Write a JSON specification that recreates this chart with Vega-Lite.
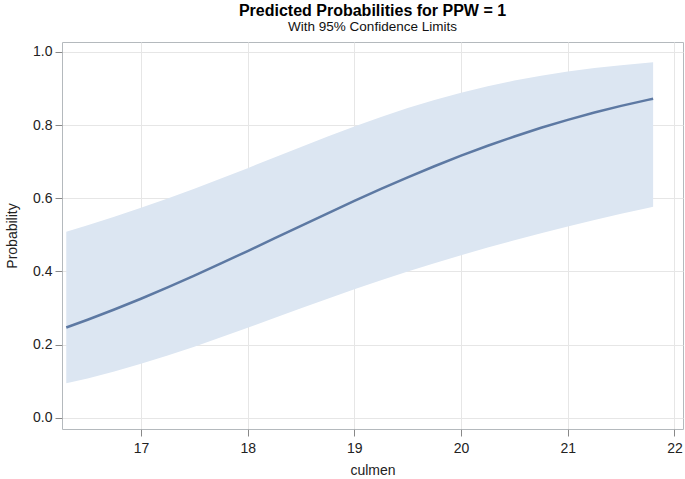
{
  "$schema": "https://vega.github.io/schema/vega-lite/v6.json",
  "autosize": "none",
  "width": 621,
  "height": 387,
  "padding": {"left": 62, "top": 42, "right": 2, "bottom": 50},
  "background": "white",
  "title": {
    "text": "Predicted Probabilities for PPW = 1",
    "subtitle": "With 95% Confidence Limits",
    "anchor": "middle",
    "font": "Liberation Sans",
    "fontSize": 16,
    "fontWeight": "bold",
    "color": "#000000",
    "subtitleFont": "Liberation Sans",
    "subtitleFontSize": 13.5,
    "subtitleColor": "#111111",
    "subtitlePadding": 1,
    "offset": 9
  },
  "config": {
    "view": {"stroke": "#b4b9bd", "strokeWidth": 1},
    "axis": {
      "labelFont": "Liberation Sans",
      "labelFontSize": 14,
      "labelColor": "#222222",
      "titleFont": "Liberation Sans",
      "titleFontSize": 14,
      "titleFontWeight": "normal",
      "titleColor": "#222222",
      "gridColor": "#e6e6e6",
      "gridWidth": 1,
      "tickColor": "#888888",
      "tickSize": 7,
      "domain": false
    }
  },
  "data": {
    "values": [
      {"culmen": 16.3, "p": 0.2469, "lo": 0.0941, "hi": 0.5087},
      {"culmen": 16.5, "p": 0.2680, "lo": 0.1077, "hi": 0.5264},
      {"culmen": 16.75, "p": 0.2959, "lo": 0.1265, "hi": 0.5495},
      {"culmen": 17.0, "p": 0.3254, "lo": 0.1474, "hi": 0.5738},
      {"culmen": 17.25, "p": 0.3564, "lo": 0.1701, "hi": 0.5994},
      {"culmen": 17.5, "p": 0.3887, "lo": 0.1944, "hi": 0.6261},
      {"culmen": 17.75, "p": 0.4219, "lo": 0.2199, "hi": 0.6539},
      {"culmen": 18.0, "p": 0.4558, "lo": 0.2462, "hi": 0.6823},
      {"culmen": 18.25, "p": 0.4902, "lo": 0.2729, "hi": 0.7113},
      {"culmen": 18.5, "p": 0.5246, "lo": 0.2995, "hi": 0.7402},
      {"culmen": 18.75, "p": 0.5589, "lo": 0.3256, "hi": 0.7687},
      {"culmen": 19.0, "p": 0.5926, "lo": 0.3512, "hi": 0.7962},
      {"culmen": 19.25, "p": 0.6254, "lo": 0.3759, "hi": 0.8222},
      {"culmen": 19.5, "p": 0.6571, "lo": 0.3997, "hi": 0.8464},
      {"culmen": 19.75, "p": 0.6874, "lo": 0.4225, "hi": 0.8687},
      {"culmen": 20.0, "p": 0.7163, "lo": 0.4442, "hi": 0.8886},
      {"culmen": 20.25, "p": 0.7434, "lo": 0.4651, "hi": 0.9061},
      {"culmen": 20.5, "p": 0.7688, "lo": 0.4851, "hi": 0.9215},
      {"culmen": 20.75, "p": 0.7925, "lo": 0.5043, "hi": 0.9348},
      {"culmen": 21.0, "p": 0.8142, "lo": 0.5226, "hi": 0.9461},
      {"culmen": 21.25, "p": 0.8342, "lo": 0.5403, "hi": 0.9557},
      {"culmen": 21.5, "p": 0.8524, "lo": 0.5573, "hi": 0.9637},
      {"culmen": 21.75, "p": 0.8689, "lo": 0.5736, "hi": 0.9703},
      {"culmen": 21.8, "p": 0.8721, "lo": 0.5769, "hi": 0.9714}
    ]
  },
  "layer": [
    {
      "mark": {"type": "area", "color": "#dce6f2", "opacity": 1},
      "encoding": {
        "x": {
          "field": "culmen", "type": "quantitative",
          "scale": {"domain": [16.26, 22.08], "nice": false, "zero": false},
          "axis": {"values": [17, 18, 19, 20, 21, 22], "format": "d", "title": "culmen", "titlePadding": 8, "labelPadding": 5}
        },
        "y": {
          "field": "lo", "type": "quantitative",
          "scale": {"domain": [-0.0306, 1.027], "nice": false, "zero": false},
          "axis": {"values": [0, 0.2, 0.4, 0.6, 0.8, 1.0], "format": ".1f", "title": "Probability", "titlePadding": 13, "labelPadding": 3}
        },
        "y2": {"field": "hi"}
      }
    },
    {
      "mark": {"type": "line", "color": "#5d79a3", "strokeWidth": 2.5},
      "encoding": {
        "x": {"field": "culmen", "type": "quantitative"},
        "y": {"field": "p", "type": "quantitative"}
      }
    }
  ]
}
